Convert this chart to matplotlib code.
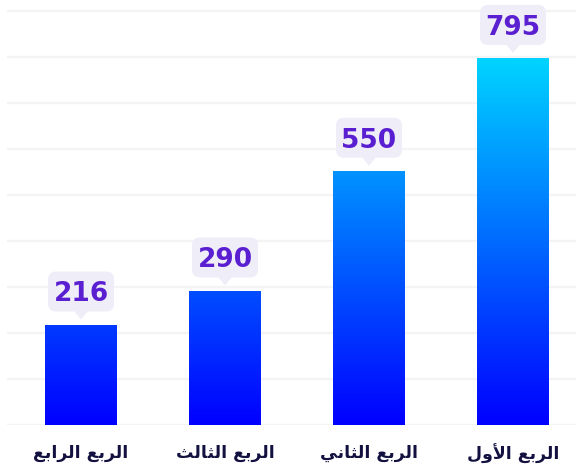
import numpy as np
import matplotlib.pyplot as plt
from matplotlib.colors import LinearSegmentedColormap
from matplotlib.patches import FancyBboxPatch, Polygon
from matplotlib.transforms import Affine2D, ScaledTranslation

# data (left to right as drawn, right-to-left reading order)
quarters = ['الربع الرابع', 'الربع الثالث', 'الربع الثاني', 'الربع الأول']
values = [216, 290, 550, 795]
grid_ticks = list(range(0, 1000, 100))

# matplotlib has no arabic shaping, so pick presentation forms by hand
DUAL = set('بثعلني')
RIGHT = set('اأرو')
FORMS = {
    'ا': ('\uFE8D', '\uFE8E'),
    'أ': ('\uFE83', '\uFE84'),
    'ر': ('\uFEAD', '\uFEAE'),
    'و': ('\uFEED', '\uFEEE'),
    'ب': ('\uFE8F', '\uFE90', '\uFE91', '\uFE92'),
    'ث': ('\uFE99', '\uFE9A', '\uFE9B', '\uFE9C'),
    'ع': ('\uFEC9', '\uFECA', '\uFECB', '\uFECC'),
    'ل': ('\uFEDD', '\uFEDE', '\uFEDF', '\uFEE0'),
    'ن': ('\uFEE5', '\uFEE6', '\uFEE7', '\uFEE8'),
    'ي': ('\uFEF1', '\uFEF2', '\uFEF3', '\uFEF4'),
}
LAMALEF = {'ا': ('\uFEFB', '\uFEFC'), 'أ': ('\uFEF7', '\uFEF8')}


def shape(s):
    out = []
    i = 0
    while i < len(s):
        c = s[i]
        linked = i > 0 and s[i - 1] in DUAL
        if c == 'ل' and i + 1 < len(s) and s[i + 1] in LAMALEF:
            out.append(LAMALEF[s[i + 1]][1 if linked else 0])
            i += 2
            continue
        if c in FORMS:
            f = FORMS[c]
            nxt = s[i + 1] if i + 1 < len(s) else ' '
            to_next = c in DUAL and (nxt in DUAL or nxt in RIGHT)
            if len(f) == 2:
                out.append(f[1] if linked else f[0])
            else:
                idx = 3 if (linked and to_next) else 2 if to_next else 1 if linked else 0
                out.append(f[idx])
        else:
            out.append(c)
        i += 1
    return ''.join(reversed(out))


fig = plt.figure(figsize=(5.76, 4.72), dpi=100)
ax = fig.add_axes([0.0122, 0.0996, 0.9878, 0.9004])

x = np.arange(len(values))
width = 0.5
vmax = max(values)
cmap = LinearSegmentedColormap.from_list('blues', ['#0000ff', '#00d4ff'])

bars = ax.bar(x, values, width, color='none', edgecolor='none', zorder=3)
for b, v in zip(bars, values):
    grad = np.linspace(0, v, 256).reshape(-1, 1)
    ax.imshow(grad, extent=[b.get_x(), b.get_x() + b.get_width(), 0, v],
              origin='lower', aspect='auto', cmap=cmap, vmin=0, vmax=vmax,
              zorder=3, interpolation='bilinear')

# value callouts: box + pointer drawn in pixels around the bar top
box_fc = '#efedf7'
for xi, v in zip(x, values):
    tr = Affine2D() + ScaledTranslation(xi, v, ax.transData)
    ax.add_patch(FancyBboxPatch((-33, 14), 66, 40,
                                boxstyle='round,pad=0,rounding_size=8',
                                fc=box_fc, ec='none', transform=tr,
                                zorder=4, clip_on=False))
    ax.add_patch(Polygon([(-7, 14.5), (7, 14.5), (0, 6)], closed=True,
                         fc=box_fc, ec='none', transform=tr,
                         zorder=4, clip_on=False))
    ax.annotate(str(v), (xi, v), xytext=(0, 17.4), textcoords='offset points',
                ha='center', va='baseline', fontsize=19, fontweight='bold',
                color='#5a1fd1', zorder=5)

ax.set_xlim(-0.514, 3.4375)
ax.set_ylim(0, 923)
ax.set_yticks(grid_ticks)
ax.set_yticklabels([])
ax.grid(axis='y', color='#f4f4f4', linewidth=1.6, zorder=0)
ax.set_axisbelow(True)
ax.set_xticks(x)
ax.set_xticklabels([shape(q) for q in quarters], fontsize=12.5,
                   fontweight='bold', color='#131140', family='DejaVu Sans')
ax.tick_params(axis='both', length=0)
ax.tick_params(axis='x', pad=14)
for s in ax.spines.values():
    s.set_visible(False)

fig.savefig('out.png', dpi=100)
